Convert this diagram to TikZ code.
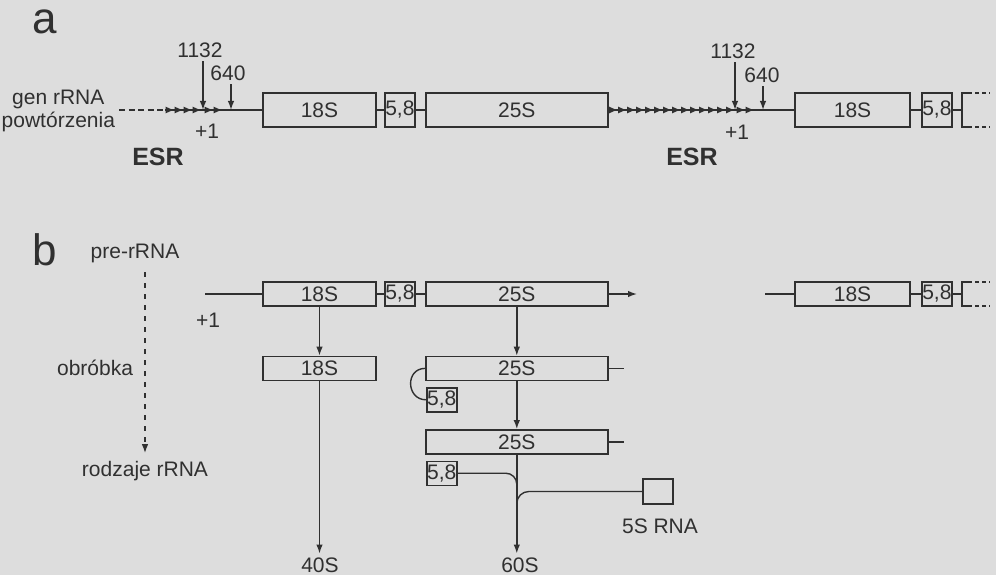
\documentclass[tikz,border=0pt]{standalone}
\usepackage{fontspec}
\setmainfont{Liberation Sans}
\usetikzlibrary{arrows.meta,positioning,calc,decorations.markings}
\definecolor{ink}{RGB}{48,48,48}
\definecolor{paper}{RGB}{221,221,221}

\begin{document}
\begin{tikzpicture}[x=1pt, y=-1pt, line width=1.4pt, color=ink,
    font=\fontsize{21}{23}\selectfont,
    rbox/.style={draw, rectangle, inner sep=0pt, minimum height=34pt},
    sbox/.style={draw, rectangle, inner sep=0pt, minimum height=24pt},
    tip/.style={-{Latex[length=9pt,width=6.5pt]}},
    esr/.style={font=\fontsize{25}{28}\selectfont\bfseries},
    panel/.style={font=\fontsize{44}{44}\selectfont},
    chain/.style={postaction={decorate}, decoration={markings,
        mark=between positions #1 step 9pt with {\fill (-7.5pt,-3.4pt) -- (0pt,0pt) -- (-7.5pt,3.4pt) -- cycle;}}}]
    \useasboundingbox (0,0) rectangle (996,575);
    \fill[paper] (0,0) rectangle (996,575);

    % a: gene repeats
    \node[panel] (pa) at (45,22) {a};
    \node[align=center, anchor=east] (gen) at (119,111) {gen rRNA\\powtórzenia};
    \coordinate (da) at (165,110);
    \coordinate (ka1) at (203,110);
    \coordinate (ka2) at (231,110);
    \node (n1132a) at (200,50) {1132};
    \node (n640a) at (228,73) {640};
    \node (p1a) at (207,131) {+1};
    \node[esr] (esra) at (158,157) {ESR};
    \node[rbox, minimum width=113pt] (a18) at (319.5,110) {18S};
    \node[rbox, minimum width=30pt, right=7.5pt of a18] (a58) {5,8};
    \node[rbox, minimum width=182pt, right=9.5pt of a58] (a25) {25S};

    \coordinate (kb1) at (735,110);
    \coordinate (kb2) at (763,110);
    \node (n1132b) at (733,51) {1132};
    \node (n640b) at (762,75) {640};
    \node (p1b) at (737,132) {+1};
    \node[esr] (esrb) at (692,157) {ESR};
    \node[rbox, minimum width=115pt] (c18) at (852.5,110) {18S};
    \node[rbox, minimum width=30pt, right=10.5pt of c18] (c58) {5,8};
    \coordinate (cbr) at (962,110);

    \draw[dash pattern=on 6pt off 3.5pt] (gen.east |- da) -- (da);
    \draw[chain={8pt and -2pt}] (da) -- (ka1);
    \draw[chain={9pt and -4pt}] (ka1) -- (ka2);
    \draw (ka2) -- (a18);
    \draw (a18) -- (a58);
    \draw (a58) -- (a25);
    \draw[chain={8pt and -1pt}] (a25) -- (kb1);
    \draw[chain={9pt and -4pt}] (kb1) -- (kb2);
    \draw (kb2) -- (c18);
    \draw (c18) -- (c58);
    \draw (c58) -- (cbr);
    \draw[tip] (n1132a.south -| ka1) -- (ka1);
    \draw[tip] (n640a.south -| ka2) -- (ka2);
    \draw[tip] (n1132b.south -| kb1) -- (kb1);
    \draw[tip] (n640b.south -| kb2) -- (kb2);
    \draw (968,93) -- (962,93) -- (962,127) -- (968,127);
    \draw[dash pattern=on 4pt off 3pt] (968,93) -- (990,93) (968,127) -- (990,127);

    % b: processing
    \node[panel] (pb) at (45,250) {b};
    \node (pre) at (135,253) {pre-rRNA};
    \node (rodz) at (145,471) {rodzaje rRNA};
    \node[anchor=east] (obr) at (137,368) {obróbka};
    \draw[tip, dash pattern=on 5pt off 6pt, shorten <=6pt, shorten >=4pt] (pre.south -| rodz.north) -- (rodz.north);

    \node (p1c) at (208,320) {+1};
    \coordinate (sb) at (205,294);
    \node[sbox, minimum width=113pt] (b18) at (319.5,294) {18S};
    \node[sbox, minimum width=30pt, right=7.5pt of b18] (b58) {5,8};
    \node[sbox, minimum width=182pt, right=9.5pt of b58] (b25) {25S};
    \coordinate (eb) at (637,294);
    \coordinate (sd) at (765,294);
    \node[sbox, minimum width=115pt] (d18) at (852.5,294) {18S};
    \node[sbox, minimum width=30pt, right=10.5pt of d18] (d58) {5,8};
    \coordinate (dbr) at (962,294);

    \draw (sb) -- (b18);
    \draw (b18) -- (b58);
    \draw (b58) -- (b25);
    \draw[tip] (b25) -- (eb);
    \draw (sd) -- (d18);
    \draw (d18) -- (d58);
    \draw (d58) -- (dbr);
    \draw (968,282) -- (962,282) -- (962,306) -- (968,306);
    \draw[dash pattern=on 4pt off 3pt] (968,282) -- (990,282) (968,306) -- (990,306);

    \node[sbox, minimum width=113pt, below=49pt of b18] (b18x) {18S};
    \node[sbox, minimum width=182pt, below=49pt of b25] (b25x) {25S};
    \node[sbox, minimum width=30pt, anchor=north west] (b58x) at ($(b25x.south west)+(1,6)$) {5,8};
    \coordinate (b25xe) at ($(b25x.east)+(15,0)$);
    \draw[tip] (b18) -- (b18x);
    \draw[tip] (b25) -- (b25x);
    \draw (b25x) -- (b25xe);
    \draw (b25x.west) .. controls +(-20,0) and +(-20,0) .. (b58x.west);

    \node[sbox, minimum width=182pt, below=48pt of b25x] (b25y) {25S};
    \node[sbox, minimum width=30pt, anchor=north west] (b58y) at ($(b25y.south west)+(1,6)$) {5,8};
    \node[sbox, minimum width=30pt, minimum height=25pt] (b5s) at (658,491.5) {};
    \node (n5s) at (660,526) {5S RNA};
    \node (n60) at (520,565) {60S};
    \node (n40) at (320,565) {40S};
    \coordinate (b25ye) at ($(b25y.east)+(15,0)$);
    \coordinate (j58) at ($(b25y.south)+(0,40)$);
    \coordinate (j5s) at ($(b25y.south)+(0,62)$);
    \draw[tip] (b25x) -- (b25y);
    \draw (b25y) -- (b25ye);
    \draw[tip] (b25y.south) -- (b25y.south |- n60.north);
    \draw[rounded corners=11pt] (b58y.east) -| (j58);
    \draw[rounded corners=12pt] (b5s.west) -| (j5s);
    \draw[tip] (b18x) -- (b18x.south |- n40.north);
\end{tikzpicture}
\end{document}
